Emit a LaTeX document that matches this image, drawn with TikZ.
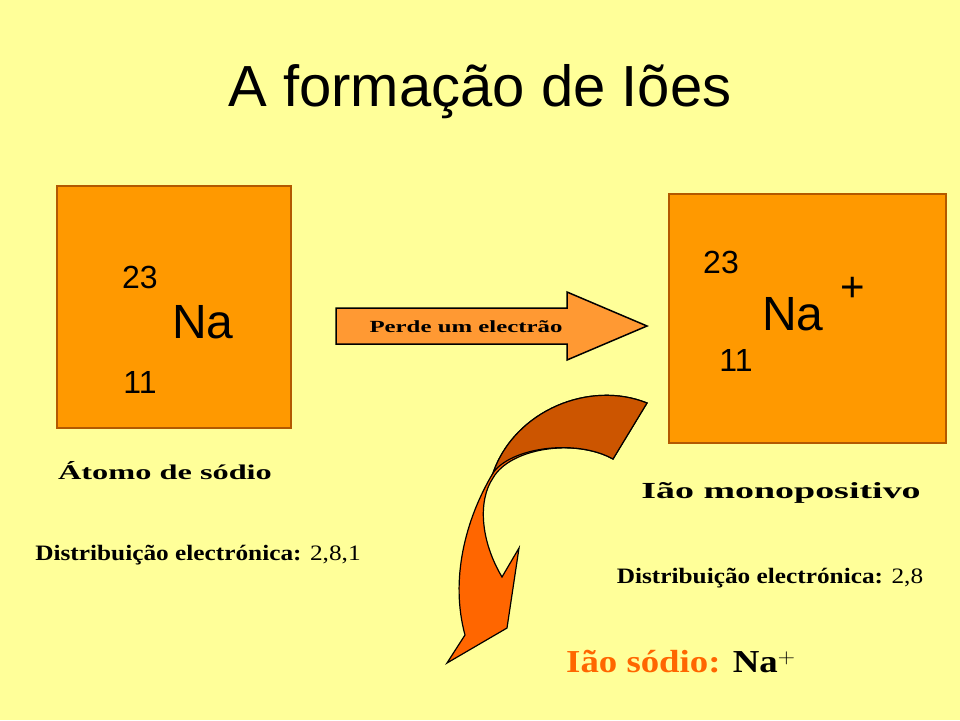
\documentclass[tikz,border=0pt]{standalone}
\usepackage{fontspec}
\setmainfont{Liberation Serif}
\newfontfamily\arialf{Liberation Sans}
\definecolor{bg}{HTML}{FFFF99}
\definecolor{boxor}{HTML}{FF9900}
\definecolor{boxline}{HTML}{B35900}
\definecolor{arrfill}{HTML}{FF9933}
\definecolor{darkor}{HTML}{CC5500}
\definecolor{brightor}{HTML}{FF6600}
\begin{document}
\begin{tikzpicture}[x=1pt,y=-1pt,
  elembox/.style={draw=boxline,line width=1.5pt,fill=boxor},
  sans/.style={font=\arialf\fontsize{#1}{#1}\selectfont,inner sep=0},
  serb/.style={font=\bfseries\fontsize{#1}{#1}\selectfont,inner sep=0}]
\fill[bg] (0,0) rectangle (960,720);
\useasboundingbox (0,0) rectangle (960,720);
\node[sans=58] (title) at (480,92) {A formação de Iões};
% boxes
\draw[elembox] (57,186) rectangle (291,428);
\draw[elembox] (669,194) rectangle (946,443);
\node[sans=32] (m1) at (140,277) {23};
\node[sans=48] (na1) at (203,322) {Na};
\node[sans=32] (z1) at (140,382) {11};
\node[sans=32] (m2) at (721,262) {23};
\node[sans=48] (na2) at (793,314) {Na};
\node[sans=42] (pl) at (853,289) {+};
\node[sans=32] (z2) at (736,360) {11};
% straight arrow
\draw[fill=arrfill,line width=1.5pt,line join=miter] (336,308) -- (567,308) -- (567,292) -- (647,326) -- (567,360) -- (567,344) -- (336,344) -- cycle;
\node[serb=17] (lab) at (466,327) {\scalebox{1.46}[1]{Perde um electrão}};
% curved arrow
\draw[fill=brightor,line width=1.2pt,line join=miter]
  (647,403) .. controls (590,380) and (515,410) .. (493,473)
  .. controls (465,520) and (450,580) .. (465,635)
  -- (447,663) -- (507,628) -- (519,548) -- (502,577)
  .. controls (480,540) and (478,500) .. (493,478)
  .. controls (510,448) and (575,438) .. (613,459) -- cycle;
\fill[darkor] (647,403) .. controls (590,380) and (515,410) .. (493,473)
  .. controls (510,448) and (575,438) .. (613,459) -- cycle;
\draw[line width=1.2pt] (647,403) .. controls (590,380) and (515,410) .. (493,473)
  .. controls (510,448) and (575,438) .. (613,459) -- cycle;
% labels
\node[serb=21] (at) at (165,471) {\scalebox{1.54}[1]{Átomo de sódio}};
\node[serb=23] (ion) at (781,493) {\scalebox{1.65}[1]{Ião monopositivo}};
\node[font=\fontsize{22}{22}\selectfont,inner sep=0] (d1) at (198,555) {\scalebox{1.15}[1]{\textbf{Distribuição electrónica:} 2,8,1}};
\node[font=\fontsize{22}{22}\selectfont,inner sep=0] (d2) at (770,578) {\scalebox{1.15}[1]{\textbf{Distribuição electrónica:} 2,8}};
\node[serb=32,anchor=west] (is) at (566,662) {\scalebox{1.15}[1]{\textcolor{brightor}{Ião sódio:} Na$^{\mathbf{+}}$}};
\end{tikzpicture}
\end{document}
